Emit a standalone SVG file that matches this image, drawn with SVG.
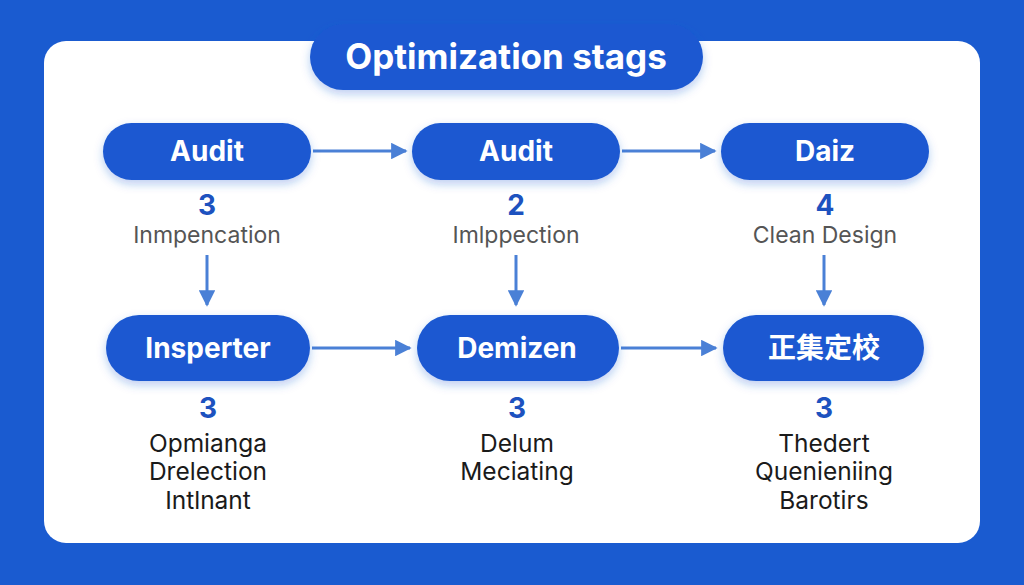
<svg xmlns="http://www.w3.org/2000/svg" width="1024" height="585" viewBox="0 0 1024 585">
<defs>
<filter id="sh" x="-20%" y="-30%" width="140%" height="170%">
<feDropShadow dx="0" dy="4" stdDeviation="5" flood-color="#1a5bd0" flood-opacity="0.3"/>
</filter>
<marker id="ah" viewBox="0 0 10 10" refX="9" refY="5" markerWidth="5.5" markerHeight="5.5" orient="auto">
<path d="M0,0 L10,5 L0,10 z" fill="#4a80d6"/>
</marker>
<style>
.pill{fill:#1b59d1;filter:url(#sh)}
.nt{font-family:Inter,"Noto Sans CJK SC","Liberation Sans",sans-serif;font-weight:700;font-size:28px;fill:#fff;text-anchor:middle}
.tt{font-size:35px}
.num{font-family:Inter,"Liberation Sans",sans-serif;font-weight:700;font-size:28px;fill:#1d52bf;text-anchor:middle}
.sub{font-family:Inter,"Liberation Sans",sans-serif;font-size:23px;fill:#555;text-anchor:middle}
.desc{font-family:Inter,"Liberation Sans",sans-serif;font-size:24.5px;fill:#1a1a1a;text-anchor:middle}
.con{stroke:#4a80d6;stroke-width:3;fill:none;marker-end:url(#ah)}
</style>
</defs>
<rect width="1024" height="585" fill="#1a5bd0"/>
<rect x="44" y="41" width="936" height="502" rx="22" fill="#fff"/>
<g id="title">
<rect x="310" y="24" width="393" height="66" rx="33" class="pill"/>
<text x="506" y="69" class="nt tt">Optimization stags</text>
</g>
<g id="connectors">
<line x1="313" y1="151" x2="406" y2="151" class="con"/>
<line x1="622" y1="151" x2="715" y2="151" class="con"/>
<line x1="312" y1="348" x2="410" y2="348" class="con"/>
<line x1="621" y1="348" x2="716" y2="348" class="con"/>
<line x1="207" y1="255" x2="207" y2="305" class="con"/>
<line x1="516" y1="255" x2="516" y2="305" class="con"/>
<line x1="824" y1="255" x2="824" y2="305" class="con"/>
</g>
<g id="n1">
<rect x="103" y="123" width="208" height="57" rx="28.5" class="pill"/>
<text x="207" y="161" class="nt">Audit</text>
<text x="207" y="215" class="num">3</text>
<text x="207" y="243" class="sub">Inmpencation</text>
</g>
<g id="n2">
<rect x="412" y="123" width="208" height="57" rx="28.5" class="pill"/>
<text x="516" y="161" class="nt">Audit</text>
<text x="516" y="215" class="num">2</text>
<text x="516" y="243" class="sub">Imlppection</text>
</g>
<g id="n3">
<rect x="721" y="123" width="208" height="57" rx="28.5" class="pill"/>
<text x="825" y="161" class="nt">Daiz</text>
<text x="825" y="215" class="num">4</text>
<text x="825" y="243" class="sub">Clean Design</text>
</g>
<g id="n4">
<rect x="106" y="315" width="204" height="66" rx="33" class="pill"/>
<text x="208" y="358" class="nt">Insperter</text>
<text x="208" y="418" class="num">3</text>
<text x="208" y="452" class="desc">Opmianga</text>
<text x="208" y="480" class="desc">Drelection</text>
<text x="208" y="509" class="desc">Intlnant</text>
</g>
<g id="n5">
<rect x="417" y="315" width="202" height="66" rx="33" class="pill"/>
<text x="517" y="358" class="nt">Demizen</text>
<text x="517" y="418" class="num">3</text>
<text x="517" y="452" class="desc">Delum</text>
<text x="517" y="480" class="desc">Meciating</text>
</g>
<g id="n6">
<rect x="723" y="315" width="201" height="66" rx="33" class="pill"/>
<text x="824" y="358" class="nt">正集定校</text>
<text x="824" y="418" class="num">3</text>
<text x="824" y="452" class="desc">Thedert</text>
<text x="824" y="480" class="desc">Quenieniing</text>
<text x="824" y="509" class="desc">Barotirs</text>
</g>
</svg>
